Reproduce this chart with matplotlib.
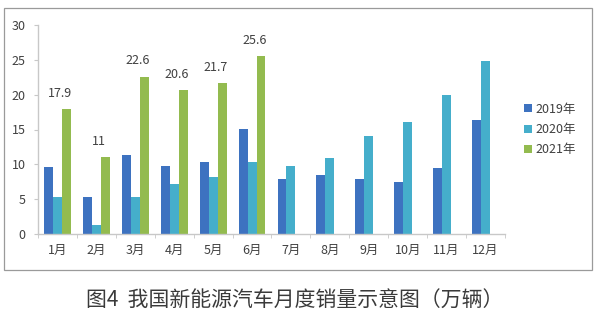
import numpy as np
import matplotlib
matplotlib.use('Agg')
import matplotlib.pyplot as plt
from matplotlib.patches import Rectangle

plt.rcParams['font.family'] = ['Noto Sans CJK SC', 'DejaVu Sans']

# Data
months = ['1月', '2月', '3月', '4月', '5月', '6月', '7月', '8月', '9月', '10月', '11月', '12月']
sales_2019 = [9.6, 5.3, 11.4, 9.7, 10.4, 15.1, 7.9, 8.5, 7.9, 7.5, 9.5, 16.3]
sales_2020 = [5.3, 1.3, 5.3, 7.2, 8.2, 10.4, 9.8, 10.9, 14.1, 16.1, 20.0, 24.9]
sales_2021 = [17.9, 11, 22.6, 20.6, 21.7, 25.6]
series_names = ['2019年', '2020年', '2021年']

C2019 = '#3d72c0'
C2020 = '#45aecb'
C2021 = '#93bb4f'
AXCOL = '#c8c8c8'
TXT = '#404040'

fig = plt.figure(figsize=(5.96, 3.28), dpi=100)
fig.patch.set_facecolor('white')

# outer frame of the chart area
fig.patches.append(Rectangle((4/596, 1-270/328), 588/596, 262/328,
                             transform=fig.transFigure, fill=False,
                             edgecolor='#9a9a9a', linewidth=0.9))

ax = fig.add_axes([38/596, 1-234/328, 467/596, 209/328])

x = np.arange(len(months))
w = 0.23
ax.bar(x - w, sales_2019, w, color=C2019, label=series_names[0])
ax.bar(x, sales_2020, w, color=C2020, label=series_names[1])
ax.bar(x[:len(sales_2021)] + w, sales_2021, w, color=C2021, label=series_names[2])

# labels only on the 2021 series
for xi, v in zip(x[:len(sales_2021)], sales_2021):
    ax.text(xi + w*0.3, v + 1.3, f'{v:g}', ha='center', va='bottom',
            fontsize=9, color=TXT)

ax.set_xlim(-0.5, len(months) - 0.5)
ax.set_ylim(0, 30)
ax.set_yticks([0, 5, 10, 15, 20, 25, 30])

ax.set_xticks(x)
ax.set_xticklabels(months, fontsize=9, color=TXT)
ax.set_xticks(np.arange(-0.5, len(months)), minor=True)
ax.tick_params(axis='x', which='major', length=0, pad=7)
ax.tick_params(axis='x', which='minor', length=3, color=AXCOL)
ax.tick_params(axis='y', length=3, color=AXCOL, labelsize=9, labelcolor=TXT, pad=6)

for s in ['top', 'right']:
    ax.spines[s].set_visible(False)
for s in ['left', 'bottom']:
    ax.spines[s].set_color(AXCOL)
    ax.spines[s].set_linewidth(1.0)

leg = ax.legend(loc='center left', bbox_to_anchor=(1.03, 0.5), frameon=False,
                fontsize=9, handlelength=0.6, handleheight=0.6,
                handletextpad=0.3, labelspacing=0.6, borderaxespad=0)
for t in leg.get_texts():
    t.set_color(TXT)

fig.text(295/596, 1-301/328, '图4  我国新能源汽车月度销量示意图（万辆）', ha='center', va='center',
         fontsize=15, color='#3a3a3a')

fig.savefig('out.png', dpi=100)
